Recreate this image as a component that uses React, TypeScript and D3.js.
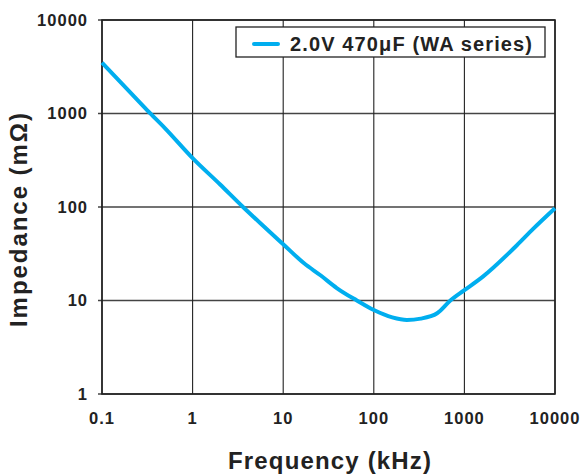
import React from "react";
import * as d3 from "d3";

const freqKHz = [0.1, 0.2, 0.316, 0.5, 1, 2, 3.6, 6, 10, 17, 26, 39, 65, 100, 160, 232, 330, 500, 700, 1000, 1600, 3800, 5700, 10000];
const impedance = [3500, 1720, 1080, 690, 333, 175, 100, 63, 40, 25, 18.5, 13.6, 10, 7.9, 6.6, 6.2, 6.4, 7.3, 10, 12.9, 18, 39, 58, 97];
const xTicks = [0.1, 1, 10, 100, 1000, 10000];
const yTicks = [1, 10, 100, 1000, 10000];
const seriesLabel = "2.0V 470μF (WA series)";

const W = 584, H = 476;
const L = 102, R = 555, T = 20, B = 394;

export default function App() {
  const x = d3.scaleLog().domain([0.1, 10000]).range([L, R]);
  const y = d3.scaleLog().domain([1, 10000]).range([B, T]);
  const line = d3.line<number>()
    .x((_, i) => x(freqKHz[i]))
    .y((d) => y(d))
    .curve(d3.curveMonotoneX);
  const font = "'Liberation Sans', Arial, Helvetica, sans-serif";
  return (
    <svg width={W} height={H} style={{ position: "absolute", left: 0, top: 0 }} fontFamily={font}>
      <rect width={W} height={H} fill="#fff" />
      {yTicks.map((t) => (
        <line key={"h" + t} x1={L - 4} x2={R} y1={y(t)} y2={y(t)} stroke="#444" strokeWidth={1.6} />
      ))}
      {xTicks.map((t) => (
        <line key={"v" + t} x1={x(t)} x2={x(t)} y1={T} y2={B} stroke="#222" strokeWidth={1.1} />
      ))}
      <rect x={L} y={T} width={R - L} height={B - T} fill="none" stroke="#222" strokeWidth={1.6} />
      <path d={line(impedance) || ""} fill="none" stroke="#00AEEF" strokeWidth={4} strokeLinejoin="round" />
      {yTicks.map((t) => (
        <text key={"yl" + t} x={88} y={y(t)} dy="0.35em" textAnchor="end" fontSize={16.5} fontWeight="bold" letterSpacing={1} fill="#222">{t}</text>
      ))}
      {xTicks.map((t) => (
        <text key={"xl" + t} x={x(t)} y={418} dy="0.35em" textAnchor="middle" fontSize={16.5} fontWeight="bold" letterSpacing={1} fill="#222">{t}</text>
      ))}
      <text x={228} y={461} dy="0.35em" fontSize={24} fontWeight="bold" fill="#222" textLength={203} lengthAdjust="spacing">Frequency (kHz)</text>
      <text transform={`translate(19,327) rotate(-90)`} dy="0.35em" fontSize={24} fontWeight="bold" fill="#222" textLength={214} lengthAdjust="spacing">Impedance (mΩ)</text>
      <rect x={236} y={27} width={309} height={30} fill="#fff" stroke="#222" strokeWidth={1.3} />
      <line x1={254} x2={278} y1={44} y2={44} stroke="#00AEEF" strokeWidth={4} strokeLinecap="round" />
      <text x={290} y={44} dy="0.35em" fontSize={20} fontWeight="bold" fill="#222" textLength={242} lengthAdjust="spacing">{seriesLabel}</text>
    </svg>
  );
}
